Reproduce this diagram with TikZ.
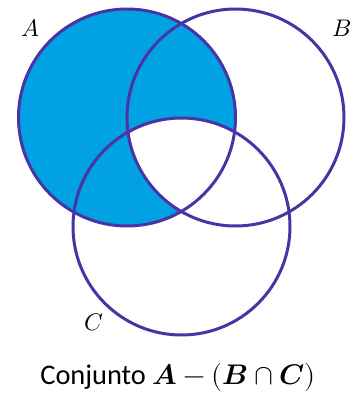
\documentclass[tikz,border=0pt]{standalone}
\usepackage{fontspec}
\usepackage{unicode-math}
\setmainfont{Carlito}
\setmathfont{Latin Modern Math}
\definecolor{fillc}{RGB}{0,162,228}
\definecolor{linec}{RGB}{72,52,162}
\begin{document}
\begin{tikzpicture}[x=1pt,y=-1pt,
  setcircle/.style={draw=linec,line width=3pt},
  lbl/.style={font=\fontsize{24}{28}\selectfont, inner sep=0pt},
  captxt/.style={font=\fontsize{28.4}{32}\selectfont, inner sep=0pt}]
\useasboundingbox (0,0) rectangle (356,394);
\coordinate (cA) at (127,117.5);
\coordinate (cB) at (235.5,117.5);
\coordinate (cC) at (181.5,226.5);
\def\rr{108.5}
\fill[fillc] (cA) circle[radius=\rr];
\begin{scope}
  \clip (cB) circle[radius=\rr];
  \fill[white] (cC) circle[radius=\rr];
\end{scope}
\draw[setcircle] (cA) circle[radius=\rr];
\draw[setcircle] (cB) circle[radius=\rr];
\draw[setcircle] (cC) circle[radius=\rr];
\node[lbl] (labA) at (30,28) {$A$};
\node[lbl] (labB) at (342,28) {$B$};
\node[lbl] (labC) at (94,322) {$C$};
\node[captxt] (cap) at (178,377) {Conjunto $\symbfit{A}-(\symbfit{B}\cap\symbfit{C})$};
\end{tikzpicture}
\end{document}
